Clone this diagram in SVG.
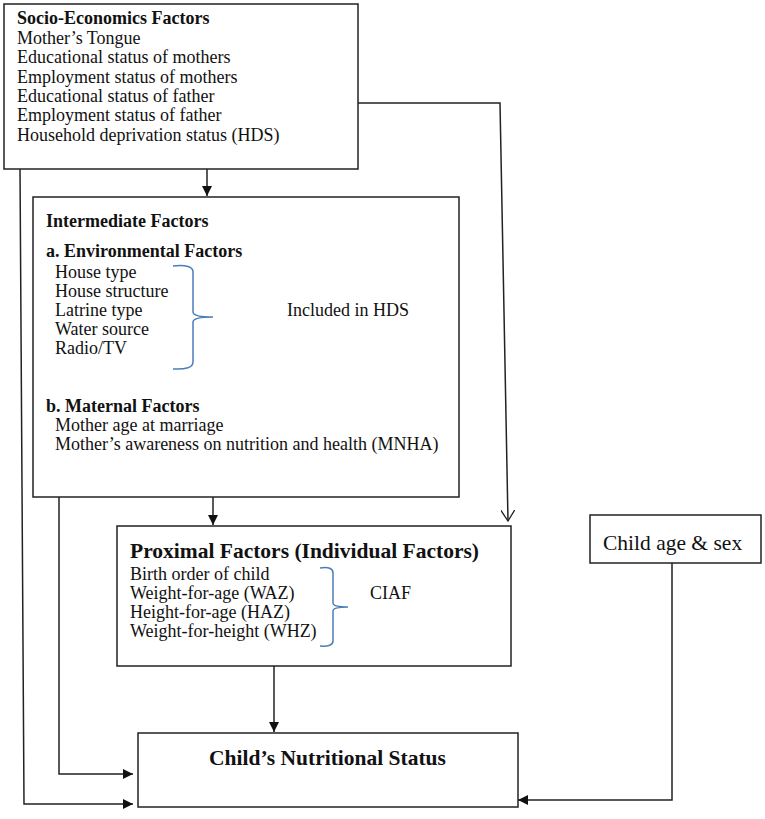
<svg xmlns="http://www.w3.org/2000/svg" width="765" height="819" viewBox="0 0 765 819">
<defs>
<style>
.box{fill:#fff;stroke:#222;stroke-width:1.5}
.ln{fill:none;stroke:#222;stroke-width:1.5}
.br{fill:none;stroke:#4a7ebb;stroke-width:1.5}
text{font-family:"Liberation Serif","Times New Roman",serif;font-size:18px;fill:#111}
.b{font-weight:bold}
</style>
<marker id="fa" viewBox="0 0 10 10" refX="10" refY="5" markerWidth="10" markerHeight="10" markerUnits="userSpaceOnUse" orient="auto">
<path d="M0,0 L10,5 L0,10 z" fill="#111"/>
</marker>
<marker id="oa" viewBox="0 0 12 14" refX="11" refY="7" markerWidth="12" markerHeight="14" markerUnits="userSpaceOnUse" orient="auto">
<path d="M0,0 L11,7 L0,14" fill="none" stroke="#222" stroke-width="1.3"/>
</marker>
</defs>
<rect width="765" height="819" fill="#fff"/>
<g id="connectors">
<line class="ln" x1="207" y1="169" x2="207" y2="196" marker-end="url(#fa)"/>
<polyline class="ln" points="358,103 500,103 508,521" marker-end="url(#oa)"/>
<line class="ln" x1="213" y1="497" x2="213" y2="525" marker-end="url(#fa)"/>
<line class="ln" x1="274" y1="666" x2="274" y2="732" marker-end="url(#fa)"/>
<polyline class="ln" points="20,169 24,804 133,804" marker-end="url(#fa)"/>
<polyline class="ln" points="59,497 59,774 133,774" marker-end="url(#fa)"/>
<polyline class="ln" points="672,563 672,800 518,800" marker-end="url(#fa)"/>
</g>
<g id="socio">
<rect class="box" x="4" y="4" width="354" height="165"/>
<text class="b" x="17" y="24">Socio-Economics Factors</text>
<text x="17" y="44">Mother’s Tongue</text>
<text x="17" y="63">Educational status of mothers</text>
<text x="17" y="83">Employment status of mothers</text>
<text x="17" y="102">Educational status of father</text>
<text x="17" y="121">Employment status of father</text>
<text x="17" y="141">Household deprivation status (HDS)</text>
</g>
<g id="intermediate">
<rect class="box" x="33" y="197" width="426" height="300"/>
<text class="b" x="46" y="227">Intermediate Factors</text>
<text class="b" x="46" y="257">a. Environmental Factors</text>
<text x="55" y="278">House type</text>
<text x="55" y="297">House structure</text>
<text x="55" y="316">Latrine type</text>
<text x="55" y="335">Water source</text>
<text x="55" y="354">Radio/TV</text>
<path class="br" d="M173,266 Q193,264 193,272 L193,312 Q193,317 213,317 Q193,317 193,322 L193,362 Q193,370 173,369"/>
<text x="287" y="316">Included in HDS</text>
<text class="b" x="46" y="412">b. Maternal Factors</text>
<text x="55" y="431">Mother age at marriage</text>
<text x="55" y="450">Mother’s awareness on nutrition and health (MNHA)</text>
</g>
<g id="proximal">
<rect class="box" x="117" y="526" width="394" height="140"/>
<text class="b" x="130" y="558" style="font-size:21.5px">Proximal Factors (Individual Factors)</text>
<text x="130" y="580">Birth order of child</text>
<text x="130" y="599">Weight-for-age (WAZ)</text>
<text x="130" y="618">Height-for-age (HAZ)</text>
<text x="130" y="637">Weight-for-height (WHZ)</text>
<path class="br" d="M320,568 Q333,566 333,573 L333,603 Q333,607 348,607 Q333,607 333,611 L333,641 Q333,647 320,646"/>
<text x="370" y="599">CIAF</text>
</g>
<g id="childage">
<rect class="box" x="590" y="515" width="171" height="48"/>
<text x="603" y="550" style="font-size:21.5px">Child age &amp; sex</text>
</g>
<g id="nutrition">
<rect class="box" x="138" y="733" width="380" height="74"/>
<text class="b" x="209" y="765" style="font-size:21.5px">Child’s Nutritional Status</text>
</g>
</svg>
